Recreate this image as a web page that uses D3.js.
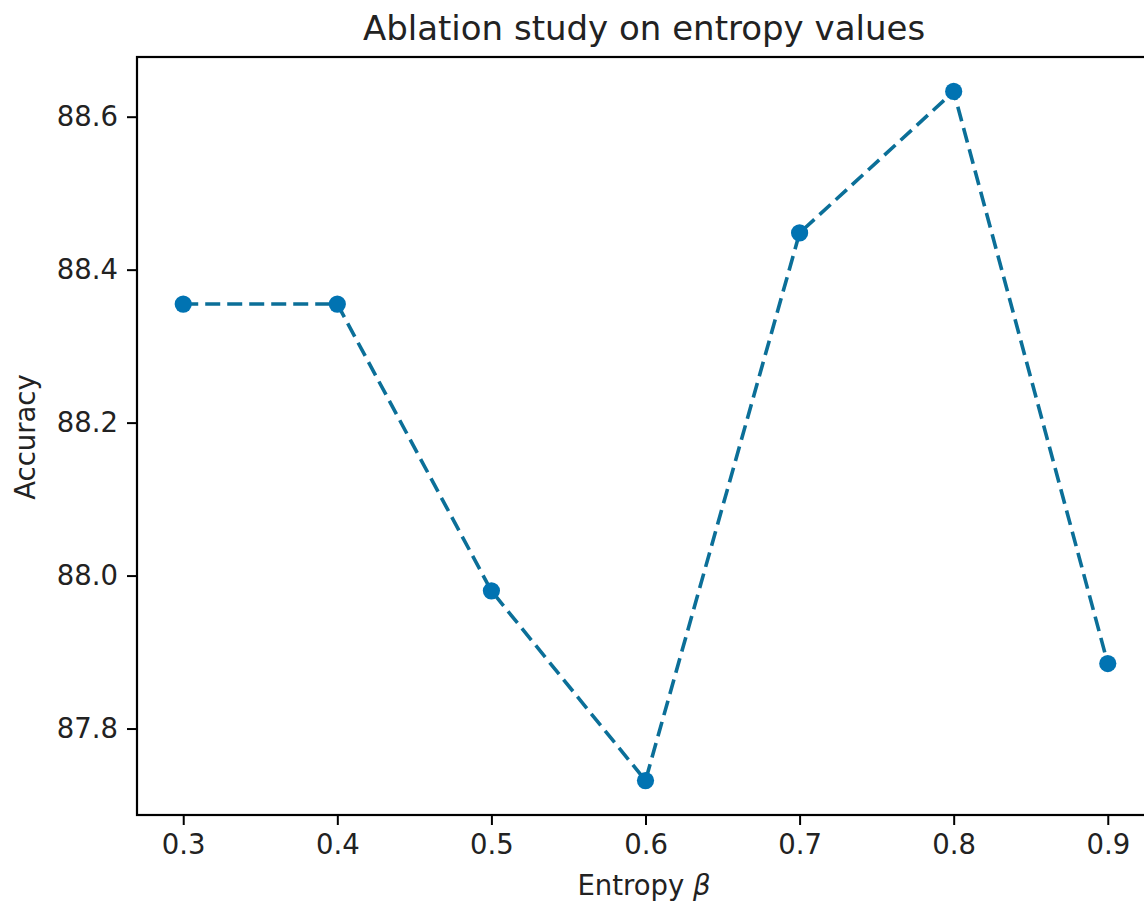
<!DOCTYPE html>
<html>
<head>
<meta charset="utf-8">
<script src="https://cdn.jsdelivr.net/npm/d3@7"></script>
<style>
  body { margin: 0; background: #fff; }
  text { font-family: "DejaVu Sans", sans-serif; fill: #222; }
</style>
</head>
<body>
<div id="chart"></div>
<script>
// values
var entropy = [0.3, 0.4, 0.5, 0.6, 0.7, 0.8, 0.9];
var accuracy = [88.355, 88.355, 87.98, 87.732, 88.448, 88.633, 87.885];
var yTicks = [87.8, 88.0, 88.2, 88.4, 88.6];

var svgWidth = 1144;
var svgHeight = 909;

// the plot frame runs past the right edge of the picture
var margin = { top: 57, right: -10, bottom: 94, left: 137 };
var width = svgWidth - margin.left - margin.right;
var height = svgHeight - margin.top - margin.bottom;

var svg = d3.select("#chart")
  .append("svg")
  .attr("width", svgWidth)
  .attr("height", svgHeight);

var chartGroup = svg.append("g")
  .attr("transform", `translate(${margin.left}, ${margin.top})`);

// matplotlib style 5% padding around the data
function padded(ext) {
  var pad = (ext[1] - ext[0]) * 0.05;
  return [ext[0] - pad, ext[1] + pad];
}

var xScale = d3.scaleLinear()
  .domain(padded(d3.extent(entropy)))
  .range([0, width]);

var yScale = d3.scaleLinear()
  .domain(padded(d3.extent(accuracy)))
  .range([height, 0]);

var bottomAxis = d3.axisBottom(xScale)
  .tickValues(entropy)
  .tickFormat(d3.format(".1f"))
  .tickSize(10)
  .tickPadding(9);

var leftAxis = d3.axisLeft(yScale)
  .tickValues(yTicks)
  .tickFormat(d3.format(".1f"))
  .tickSize(10)
  .tickPadding(9);

var xAxisG = chartGroup.append("g")
  .attr("transform", `translate(0, ${height})`)
  .call(bottomAxis);

var yAxisG = chartGroup.append("g")
  .call(leftAxis);

[xAxisG, yAxisG].forEach(function(g) {
  g.select(".domain").remove();
  g.selectAll(".tick line").attr("stroke", "#000").attr("stroke-width", 2);
  g.selectAll(".tick text")
    .attr("fill", "#222")
    .style("font-family", "DejaVu Sans, sans-serif")
    .style("font-size", "27.5px");
});

// frame
chartGroup.append("rect")
  .attr("x", 0)
  .attr("y", 0)
  .attr("width", width)
  .attr("height", height)
  .attr("fill", "none")
  .attr("stroke", "#000")
  .attr("stroke-width", 2.2);

var line = d3.line()
  .x((d, i) => xScale(entropy[i]))
  .y(d => yScale(d));

chartGroup.append("path")
  .datum(accuracy)
  .attr("d", line)
  .attr("fill", "none")
  .attr("stroke", "#0b6f98")
  .attr("stroke-width", 3.6)
  .attr("stroke-dasharray", "15,7");

chartGroup.selectAll("circle")
  .data(accuracy)
  .enter()
  .append("circle")
  .attr("cx", (d, i) => xScale(entropy[i]))
  .attr("cy", d => yScale(d))
  .attr("r", 8.6)
  .attr("fill", "#0173b2");

// title and axis labels
svg.append("text")
  .attr("x", 644)
  .attr("y", 40)
  .attr("text-anchor", "middle")
  .style("font-size", "34px")
  .text("Ablation study on entropy values");

var xl = svg.append("text")
  .attr("x", 644)
  .attr("y", 895)
  .attr("text-anchor", "middle")
  .style("font-size", "27.5px");
xl.append("tspan").text("Entropy ");
xl.append("tspan").attr("font-style", "italic").text("β");

svg.append("text")
  .attr("transform", "translate(35, 437) rotate(-90)")
  .attr("text-anchor", "middle")
  .style("font-size", "27.5px")
  .text("Accuracy");
</script>
</body>
</html>
